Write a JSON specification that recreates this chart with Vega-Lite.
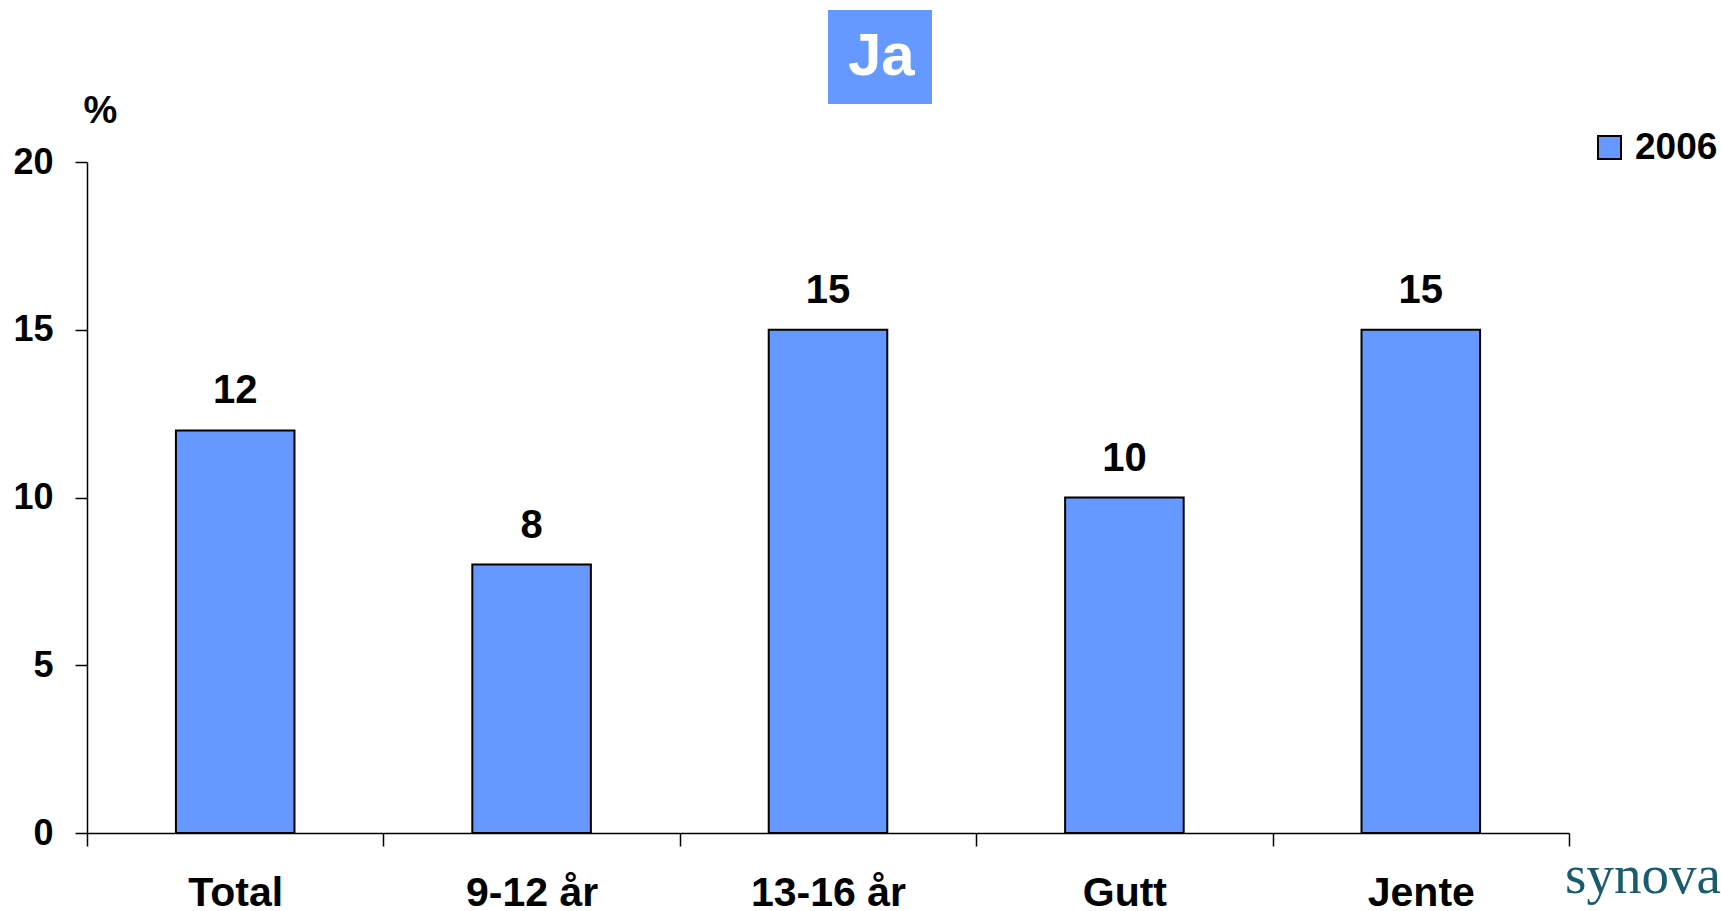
{
  "$schema": "https://vega.github.io/schema/vega-lite/v6.json",
  "width": 1482,
  "height": 671,
  "autosize": {"type": "none"},
  "padding": {"left": 87, "top": 162, "right": 152, "bottom": 78},
  "background": "white",
  "title": {
    "text": "synovate",
    "orient": "bottom",
    "anchor": "end",
    "align": "left",
    "frame": "group",
    "baseline": "alphabetic",
    "font": "Liberation Serif",
    "fontSize": 55,
    "fontWeight": "normal",
    "color": "#1a5b6e",
    "dx": -4,
    "offset": -20
  },
  "data": {
    "values": [
      {"group": "Total", "value": 12, "year": "2006", "panel": "Ja"},
      {"group": "9-12 år", "value": 8, "year": "2006", "panel": "Ja"},
      {"group": "13-16 år", "value": 15, "year": "2006", "panel": "Ja"},
      {"group": "Gutt", "value": 10, "year": "2006", "panel": "Ja"},
      {"group": "Jente", "value": 15, "year": "2006", "panel": "Ja"}
    ]
  },
  "encoding": {
    "x": {
      "field": "group",
      "type": "nominal",
      "sort": null,
      "scale": {"paddingInner": 0, "paddingOuter": 0},
      "axis": {
        "title": null,
        "labelAngle": 0,
        "tickBand": "extent",
        "tickSize": 13,
        "tickWidth": 1.5,
        "tickColor": "black",
        "domainColor": "black",
        "domainWidth": 1.5,
        "labelFont": "Liberation Sans",
        "labelFontWeight": "bold",
        "labelFontSize": 41,
        "labelColor": "black",
        "labelPadding": 27
      }
    },
    "y": {
      "field": "value",
      "type": "quantitative",
      "scale": {"domain": [0, 20]},
      "axis": {
        "values": [0, 5, 10, 15, 20],
        "grid": false,
        "title": "%",
        "titleAngle": 0,
        "titleX": 13,
        "titleY": -40,
        "titleAlign": "center",
        "titleBaseline": "alphabetic",
        "titleFont": "Liberation Sans",
        "titleFontWeight": "bold",
        "titleFontSize": 38,
        "titleColor": "black",
        "tickSize": 12,
        "tickWidth": 1.5,
        "tickColor": "black",
        "domainColor": "black",
        "domainWidth": 1.5,
        "labelFont": "Liberation Sans",
        "labelFontWeight": "bold",
        "labelFontSize": 36,
        "labelColor": "black",
        "labelPadding": 22
      }
    }
  },
  "layer": [
    {
      "mark": {"type": "bar", "stroke": "black", "strokeWidth": 2, "width": {"band": 0.4}},
      "encoding": {
        "color": {
          "field": "year",
          "type": "nominal",
          "scale": {"range": ["#6699FF"]},
          "legend": {
            "title": null,
            "orient": "none",
            "legendX": 1504,
            "legendY": -33,
            "symbolType": "square",
            "symbolSize": 529,
            "symbolStrokeColor": "black",
            "symbolStrokeWidth": 2,
            "labelOffset": 7,
            "labelFont": "Liberation Sans",
            "labelFontWeight": "bold",
            "labelFontSize": 37,
            "labelColor": "black"
          }
        },
        "opacity": {
          "field": "panel",
          "type": "ordinal",
          "scale": {"range": [1, 1]},
          "legend": {
            "title": null,
            "orient": "none",
            "legendX": 741,
            "legendY": -152,
            "fillColor": "#6699FF",
            "padding": 17,
            "symbolSize": 0,
            "symbolOpacity": 0,
            "symbolStrokeWidth": 0,
            "labelOffset": -57,
            "labelFont": "Liberation Sans",
            "labelFontWeight": "bold",
            "labelFontSize": 60,
            "labelColor": "white"
          }
        }
      }
    },
    {
      "mark": {
        "type": "text",
        "dy": -27,
        "baseline": "alphabetic",
        "font": "Liberation Sans",
        "fontWeight": "bold",
        "fontSize": 40,
        "color": "black"
      },
      "encoding": {
        "text": {"field": "value", "type": "quantitative"}
      }
    }
  ],
  "config": {"view": {"stroke": null}}
}
